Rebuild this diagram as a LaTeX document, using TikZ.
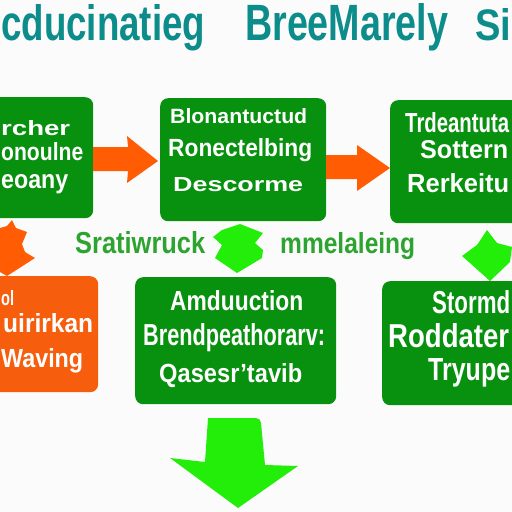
\documentclass[tikz,border=0pt]{standalone}
\usepackage{fontspec}
\setmainfont{Liberation Sans}
\usepackage{graphicx}
\definecolor{bgc}{RGB}{252,251,252}
\definecolor{boxgreen}{RGB}{8,145,14}
\definecolor{boxorange}{RGB}{246,94,14}
\definecolor{arroworange}{RGB}{255,92,4}
\definecolor{brightgreen}{RGB}{34,238,10}
\definecolor{labelgreen}{RGB}{46,164,48}
\definecolor{titleteal}{RGB}{12,140,138}
\newcommand\fl[3]{\resizebox{#1pt}{#2pt}{#3}}
\begin{document}
\begin{tikzpicture}[x=1pt,y=-1pt,
  boxg/.style={fill=boxgreen, draw=none, rounded corners=8pt, anchor=north west, inner sep=0pt},
  boxo/.style={fill=boxorange, draw=none, rounded corners=8pt, anchor=north west, inner sep=0pt},
  wt/.style={text=white, font=\bfseries, inner sep=0pt, anchor=base west},
  lbl/.style={text=labelgreen, font=\bfseries, inner sep=0pt, anchor=base west},
  ttl/.style={text=titleteal, font=\bfseries, inner sep=0pt, anchor=base west},
  oarrow/.style={fill=arroworange},
  garrow/.style={fill=brightgreen}]
\useasboundingbox (0,0) rectangle (512,512);
\clip (0,0) rectangle (512,512);
\fill[bgc] (0,0) rectangle (512,512);

% title
\node[ttl] (t1) at (1,40) {\fl{204}{36}{cducinatieg}};
\node[ttl] (t2) at (245,40) {\fl{203}{37}{BreeMarely}};
\node[ttl] (t3) at (475,40) {\fl{36}{32}{Si}};

% row 1 boxes
\node[boxg, minimum width=103pt, minimum height=121pt] (b1) at (-10,97) {};
\node[boxg, minimum width=166pt, minimum height=123pt] (b2) at (160,98) {};
\node[boxg, minimum width=132pt, minimum height=123pt] (b3) at (390,100) {};

\node[wt] (b1a) at (1,135) {\fl{69}{15}{rcher}};
\node[wt] (b1b) at (1,160) {\fl{82}{18}{onoulne}};
\node[wt] (b1c) at (1,188) {\fl{67}{14}{eoany}};

\node[wt] (b2a) at (170,123) {\fl{137}{15}{Blonantuctud}};
\node[wt] (b2b) at (168,156) {\fl{144}{18}{Ronectelbing}};
\node[wt] (b2c) at (173,191) {\fl{130}{14}{Descorme}};

\node[wt] (b3a) at (405,132) {\fl{104}{20}{Trdeantuta}};
\node[wt] (b3b) at (420,158) {\fl{88}{18}{Sottern}};
\node[wt] (b3c) at (407,192) {\fl{102}{19}{Rerkeitu}};

% row 1 arrows
\fill[oarrow] (93,147) -- (128,147) -- (127,136) -- (158,161) -- (127,183) -- (128,171) -- (93,171) -- cycle;
\fill[oarrow] (326,155) -- (357,155) -- (357,145) -- (390,168) -- (357,191) -- (357,179) -- (326,179) -- cycle;

% middle row arrows and labels
\fill[oarrow] (0,228) -- (7,226) -- (12,220) -- (16,228) -- (27,232) -- (22,244) -- (25,252) -- (35,258) -- (7,276) -- (0,272) -- cycle;
\fill[garrow] (240,224) -- (263,233) -- (255,243) -- (263,250) -- (262,258) -- (237,273) -- (215,258) -- (222,245) -- (213,237) -- (222,230) -- cycle;
\fill[garrow] (487,230) -- (497,243) -- (512,247) -- (510,262) -- (490,281) -- (470,263) -- (462,256) -- (477,245) -- cycle;

\node[lbl] (l1) at (75,253) {\fl{130}{22}{Sratiwruck}};
\node[lbl] (l2) at (280,253) {\fl{135}{21}{mmelaleing}};

% row 2 boxes
\node[boxo, minimum width=108pt, minimum height=116pt] (b4) at (-10,276) {};
\node[boxg, minimum width=201pt, minimum height=127pt] (b5) at (135,277) {};
\node[boxg, minimum width=140pt, minimum height=124pt] (b6) at (382,281) {};

\node[wt] (b4a) at (1,305) {\fl{13}{15}{ol}};
\node[wt] (b4b) at (3,332) {\fl{90}{19}{uirirkan}};
\node[wt] (b4c) at (1,367) {\fl{82}{19}{Waving}};

\node[wt] (b5a) at (170,310) {\fl{133}{20}{Amduuction}};
\node[wt] (b5b) at (143,345) {\fl{182}{22}{Brendpeathorarv:}};
\node[wt] (b5c) at (159,382) {\fl{143}{19}{Qasesr'tavib}};

\node[wt] (b6a) at (432,313) {\fl{78}{23}{Stormd}};
\node[wt] (b6b) at (388,347) {\fl{121}{24}{Roddater}};
\node[wt] (b6c) at (428,380) {\fl{82}{22}{Tryupe}};

% bottom arrow
\fill[garrow] (208,418) -- (256,418) to[out=0,in=90] (261,423) -- (265,465) -- (298,466) -- (238,508) -- (170,458) -- (205,462) -- cycle;
\end{tikzpicture}
\end{document}
